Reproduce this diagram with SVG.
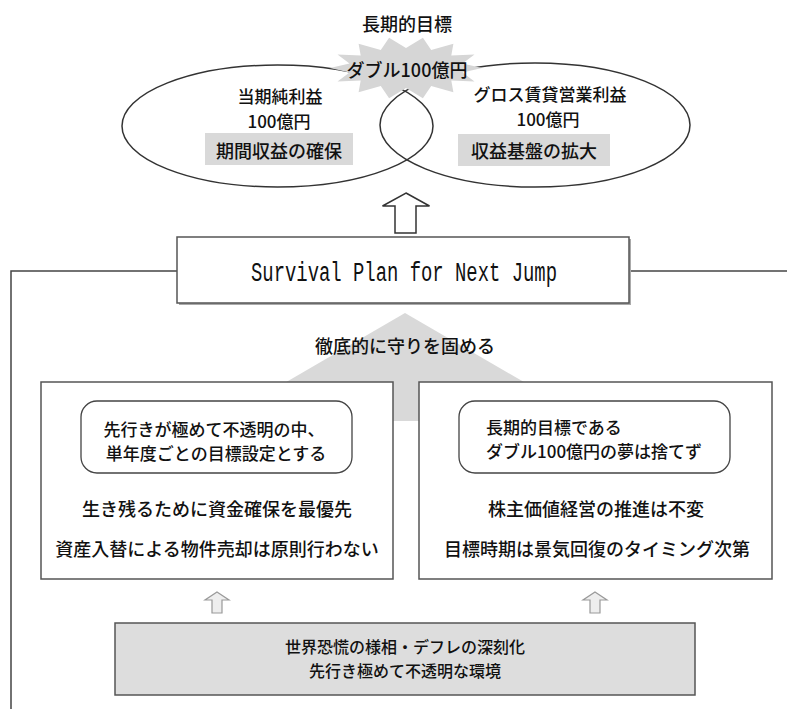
<svg xmlns="http://www.w3.org/2000/svg" width="787" height="709" viewBox="0 0 787 709">
<style>
.t{font-family:"Noto Sans CJK JP","Noto Sans",sans-serif;font-size:18px;fill:#111;text-anchor:middle;dominant-baseline:central;font-weight:500}
.s{font-size:17px}
.b{font-size:16px}
.box{fill:#fff;stroke:#555;stroke-width:1.5}
.lbl{fill:#d9d9d9}
.conn{fill:none;stroke:#444;stroke-width:1.5}
.sm{fill:#eee;stroke:#999;stroke-width:1.2}
</style>
<rect width="787" height="709" fill="#fff"/>
<g id="connectors">
<polyline class="conn" points="177,271 11,271 11,709"/>
<line class="conn" x1="629" y1="271" x2="787" y2="271"/>
<path id="bigArrow" d="M406,193 L429.5,206 L416,206 L416,233 L395,233 L395,206 L382.5,206 Z" fill="#fff" stroke="#333" stroke-width="1.5"/>
<path class="sm" d="M217,592 L229,600 L222,600 L222,613 L212,613 L212,600 L205,600 Z"/>
<path class="sm" d="M595,592 L607,600 L600,600 L600,613 L590,613 L590,600 L583,600 Z"/>
</g>
<g id="goal">
<text class="t" x="407" y="23">長期的目標</text>
</g>
<g id="ellipseLeft">
<ellipse cx="277.5" cy="126" rx="155.5" ry="61" fill="none" stroke="#333" stroke-width="1.5"/>
<rect class="lbl" x="205" y="133" width="148" height="32"/>
</g>
<g id="ellipseRight">
<ellipse cx="535" cy="125" rx="155" ry="62" fill="none" stroke="#333" stroke-width="1.5"/>
<rect class="lbl" x="458" y="134" width="152" height="32"/>
</g>
<g id="burst">
<polygon fill="#d6d6d6" points="482,68 462.5,72.5 474.5,81.5 451.3,80.5 453.4,92.2 431.2,86 422.9,98.2 406,88 389.1,98.2 380.8,86 358.6,92.2 360.7,80.5 337.5,81.5 349.5,72.5 330,68 349.5,63.5 337.5,54.5 360.7,55.5 358.6,43.8 380.8,50 389.1,37.8 406,48 422.9,37.8 431.2,50 453.4,43.8 451.3,55.5 474.5,54.5 462.5,63.5"/>
<text class="t" x="407" y="69">ダブル100億円</text>
</g>
<g id="ellipseTexts">
<text class="t s" x="280" y="95">当期純利益</text>
<text class="t s" x="279" y="120">100億円</text>
<text class="t" x="279" y="150">期間収益の確保</text>
<text class="t s" x="550" y="93">グロス賃貸営業利益</text>
<text class="t s" x="548" y="118">100億円</text>
<text class="t" x="534" y="150">収益基盤の拡大</text>
</g>
<g id="triangle">
<polygon fill="#d9d9d9" points="405,313 219,421 591,421"/>
<text class="t" x="405" y="345">徹底的に守りを固める</text>
</g>
<g id="survival">
<rect x="179" y="239" width="452" height="66" fill="#aaa"/>
<rect class="box" x="177" y="237" width="452" height="66"/>
<text x="404" y="281" font-family="Liberation Mono, monospace" font-size="27" textLength="306" lengthAdjust="spacingAndGlyphs" text-anchor="middle" fill="#111">Survival Plan for Next Jump</text>
</g>
<g id="leftBox">
<rect class="box" x="41" y="382" width="352" height="197"/>
<rect x="81" y="401" width="271" height="72" rx="16" fill="#fff" stroke="#444" stroke-width="1.3"/>
<text class="t s" x="214" y="428">先行きが極めて不透明の中、</text>
<text class="t s" x="216" y="452">単年度ごとの目標設定とする</text>
<text class="t" x="217" y="508">生き残るために資金確保を最優先</text>
<text class="t" x="217" y="548">資産入替による物件売却は原則行わない</text>
</g>
<g id="rightBox">
<rect class="box" x="419" y="382" width="353" height="197"/>
<rect x="459" y="401" width="271" height="72" rx="16" fill="#fff" stroke="#444" stroke-width="1.3"/>
<text class="t s" x="486" y="426" style="text-anchor:start">長期的目標である</text>
<text class="t s" x="486" y="450" style="text-anchor:start">ダブル100億円の夢は捨てず</text>
<text class="t" x="596" y="508">株主価値経営の推進は不変</text>
<text class="t" x="597" y="548">目標時期は景気回復のタイミング次第</text>
</g>
<g id="bottomBox">
<rect x="115" y="623" width="580" height="72" fill="#ddd" stroke="#555" stroke-width="1.5"/>
<text class="t b" x="405" y="646">世界恐慌の様相・デフレの深刻化</text>
<text class="t b" x="405" y="670">先行き極めて不透明な環境</text>
</g>
</svg>
